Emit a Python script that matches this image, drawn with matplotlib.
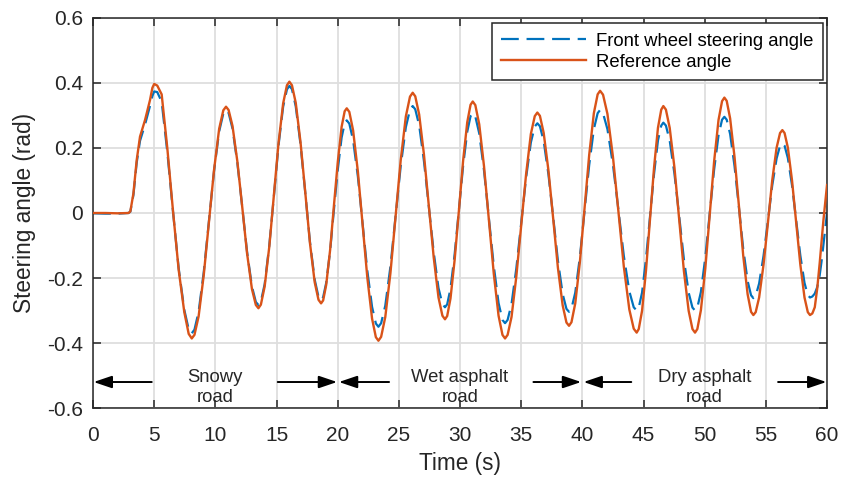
import matplotlib
matplotlib.use('Agg')
import matplotlib.pyplot as plt
from matplotlib.ticker import FuncFormatter, MultipleLocator

plt.rcParams['font.family'] = ['Liberation Sans', 'DejaVu Sans']
plt.rcParams['axes.unicode_minus'] = False

# samples (one row per half swing)
time_s = [
    0.0, 1.0, 2.0, 2.9, 3.05, 3.3, 3.57, 3.84, 4.25, 4.66, 4.85,
    5.00, 5.25, 5.61, 6.07, 6.54, 7.00, 7.46, 7.82,
    8.07, 8.29, 8.63, 9.05, 9.47, 9.89, 10.31, 10.65,
    10.87, 11.08, 11.40, 11.80, 12.20, 12.59, 12.99, 13.31,
    13.52, 13.72, 14.03, 14.41, 14.79, 15.16, 15.54, 15.85,
    16.05, 16.26, 16.57, 16.96, 17.35, 17.73, 18.12, 18.43,
    18.64, 18.81, 19.06, 19.38, 19.69, 20.01, 20.32, 20.57,
    20.74, 20.95, 21.26, 21.65, 22.04, 22.42, 22.81, 23.12,
    23.33, 23.55, 23.89, 24.31, 24.73, 25.15, 25.57, 25.91,
    26.13, 26.34, 26.66, 27.05, 27.45, 27.85, 28.24, 28.56,
    28.77, 28.95, 29.22, 29.56, 29.91, 30.25, 30.59, 30.86,
    31.04, 31.25, 31.57, 31.96, 32.36, 32.76, 33.15, 33.47,
    33.68, 33.89, 34.21, 34.60, 35.00, 35.40, 35.79, 36.11,
    36.32, 36.53, 36.84, 37.23, 37.62, 38.00, 38.39, 38.70,
    38.91, 39.11, 39.42, 39.80, 40.18, 40.56, 40.94, 41.25,
    41.45, 41.69, 42.05, 42.50, 42.95, 43.39, 43.84, 44.20,
    44.44, 44.61, 44.88, 45.20, 45.53, 45.86, 46.18, 46.45,
    46.62, 46.83, 47.14, 47.53, 47.92, 48.30, 48.69, 49.00,
    49.21, 49.40, 49.69, 50.05, 50.41, 50.77, 51.13, 51.42,
    51.61, 51.80, 52.08, 52.44, 52.80, 53.15, 53.51, 53.79,
    53.98, 54.17, 54.45, 54.81, 55.17, 55.52, 55.88, 56.16,
    56.35, 56.53, 56.80, 57.14, 57.48, 57.82, 58.16, 58.43,
    58.61, 58.80, 59.00, 59.20, 59.40, 59.55, 59.70, 59.85, 60.00,
]

reference_angle = [
    0.0, 0.0, -0.001, 0.0, 0.005, 0.060, 0.163, 0.235, 0.286, 0.348, 0.385,
    0.397, 0.392, 0.365, 0.200, 0.005, -0.175, -0.305, -0.372,
    -0.386, -0.375, -0.318, -0.191, -0.030, 0.132, 0.259, 0.316,
    0.327, 0.317, 0.268, 0.158, 0.017, -0.124, -0.234, -0.283,
    -0.293, -0.282, -0.226, -0.103, 0.056, 0.214, 0.337, 0.393,
    0.404, 0.393, 0.339, 0.218, 0.063, -0.092, -0.213, -0.267,
    -0.278, -0.269, -0.221, -0.114, 0.022, 0.158, 0.265, 0.313,
    0.322, 0.311, 0.254, 0.127, -0.036, -0.198, -0.325, -0.382,
    -0.393, -0.381, -0.320, -0.185, -0.012, 0.162, 0.297, 0.358,
    0.370, 0.359, 0.303, 0.180, 0.022, -0.137, -0.260, -0.316,
    -0.327, -0.317, -0.263, -0.144, 0.008, 0.160, 0.279, 0.333,
    0.343, 0.332, 0.273, 0.144, -0.022, -0.187, -0.316, -0.375,
    -0.386, -0.375, -0.320, -0.196, -0.039, 0.119, 0.243, 0.298,
    0.309, 0.299, 0.246, 0.130, -0.019, -0.168, -0.284, -0.337,
    -0.347, -0.336, -0.278, -0.150, 0.015, 0.179, 0.307, 0.365,
    0.376, 0.364, 0.305, 0.173, 0.004, -0.165, -0.297, -0.356,
    -0.368, -0.357, -0.301, -0.178, -0.020, 0.139, 0.262, 0.318,
    0.329, 0.318, 0.262, 0.139, -0.020, -0.178, -0.301, -0.357,
    -0.368, -0.357, -0.299, -0.171, -0.007, 0.158, 0.286, 0.344,
    0.355, 0.345, 0.291, 0.172, 0.021, -0.131, -0.250, -0.304,
    -0.314, -0.305, -0.260, -0.159, -0.030, 0.100, 0.201, 0.246,
    0.255, 0.246, 0.201, 0.100, -0.030, -0.159, -0.260, -0.305,
    -0.314, -0.309, -0.290, -0.232, -0.155, -0.090, -0.025, 0.032, 0.086,
]

front_wheel_angle = [
    -0.001, -0.002, -0.002, 0.0, 0.004, 0.055, 0.155, 0.222, 0.272, 0.330, 0.360,
    0.374, 0.372, 0.342, 0.188, 0.003, -0.170, -0.298, -0.358,
    -0.370, -0.359, -0.304, -0.182, -0.027, 0.129, 0.251, 0.306,
    0.317, 0.308, 0.260, 0.153, 0.017, -0.119, -0.226, -0.274,
    -0.283, -0.272, -0.219, -0.099, 0.054, 0.207, 0.327, 0.380,
    0.391, 0.381, 0.328, 0.211, 0.062, -0.088, -0.205, -0.258,
    -0.268, -0.259, -0.215, -0.117, 0.009, 0.134, 0.232, 0.276,
    0.285, 0.275, 0.224, 0.112, -0.033, -0.177, -0.289, -0.340,
    -0.350, -0.339, -0.285, -0.165, -0.011, 0.144, 0.264, 0.318,
    0.329, 0.319, 0.270, 0.160, 0.020, -0.121, -0.231, -0.280,
    -0.290, -0.281, -0.233, -0.127, 0.009, 0.144, 0.250, 0.298,
    0.307, 0.297, 0.245, 0.131, -0.016, -0.163, -0.277, -0.329,
    -0.339, -0.329, -0.280, -0.171, -0.032, 0.108, 0.217, 0.266,
    0.276, 0.267, 0.221, 0.118, -0.014, -0.146, -0.249, -0.295,
    -0.304, -0.294, -0.245, -0.135, 0.007, 0.148, 0.258, 0.307,
    0.317, 0.307, 0.258, 0.149, 0.009, -0.132, -0.241, -0.290,
    -0.300, -0.291, -0.245, -0.142, -0.011, 0.120, 0.223, 0.269,
    0.278, 0.269, 0.223, 0.120, -0.011, -0.142, -0.245, -0.291,
    -0.300, -0.291, -0.243, -0.137, -0.002, 0.133, 0.239, 0.287,
    0.296, 0.287, 0.243, 0.144, 0.017, -0.110, -0.209, -0.253,
    -0.262, -0.255, -0.217, -0.132, -0.024, 0.084, 0.168, 0.207,
    0.214, 0.207, 0.169, 0.085, -0.023, -0.131, -0.215, -0.253,
    -0.260, -0.257, -0.248, -0.228, -0.192, -0.150, -0.100, -0.050, 0.000,
]

road_labels = ['Snowy\nroad', 'Wet asphalt\nroad', 'Dry asphalt\nroad']
road_label_x = [10, 30, 50]
# (tail, head) of the range arrows
arrow_tails = [4.8, 15.1, 24.2, 36.0, 44.0, 56.0]
arrow_heads = [0.05, 19.95, 20.1, 39.9, 40.1, 59.95]

blue = '#0072BD'
orange = '#D95319'
ink = '#262626'

fig = plt.figure(figsize=(8.42, 4.82), dpi=100)
ax = fig.add_axes([0.1105, 0.1535, 0.8717, 0.8092])

ax.plot(time_s, front_wheel_angle, color=blue, lw=1.6, dashes=(8, 3.5),
        label='Front wheel steering angle', zorder=2)
ax.plot(time_s, reference_angle, color=orange, lw=1.7,
        label='Reference angle', zorder=3, solid_joinstyle='round')

ax.set_xlim(0, 60)
ax.set_ylim(-0.6, 0.6)
ax.xaxis.set_major_locator(MultipleLocator(5))
ax.yaxis.set_major_locator(MultipleLocator(0.2))
ax.yaxis.set_major_formatter(FuncFormatter(lambda v, _: f'{v:g}' if abs(v) > 1e-9 else '0'))
ax.grid(True, color='#dedede', lw=1.3)
ax.set_axisbelow(True)

for s in ax.spines.values():
    s.set_color(ink)
    s.set_linewidth(1.1)
ax.tick_params(direction='in', length=6, width=1.1, top=True, right=True,
               labelsize=15, colors=ink, labelcolor=ink, pad=7)
ax.tick_params(axis='x', pad=13)

ax.set_xlabel('Time (s)', fontsize=16.3, color=ink, labelpad=5)
ax.set_ylabel('Steering angle (rad)', fontsize=16.3, color=ink, labelpad=8)

for tail, head in zip(arrow_tails, arrow_heads):
    ax.annotate('', xy=(head, -0.52), xytext=(tail, -0.52), annotation_clip=False,
                arrowprops=dict(arrowstyle='-|>,head_length=0.65,head_width=0.22',
                                color='black', lw=1.4, shrinkA=0, shrinkB=0,
                                mutation_scale=17))
for name, x in zip(road_labels, road_label_x):
    ax.text(x, -0.537, name, ha='center', va='center', fontsize=13.3,
            color=ink, linespacing=1.25)

leg = ax.legend(loc='upper right', fontsize=13.3, frameon=True, fancybox=False,
                framealpha=1, edgecolor=ink, handlelength=4.6,
                borderpad=0.5, labelspacing=0.22, handletextpad=0.55,
                borderaxespad=0, bbox_to_anchor=(0.9946, 0.986))
leg.get_frame().set_linewidth(1.1)

fig.savefig('out.png', dpi=100)
